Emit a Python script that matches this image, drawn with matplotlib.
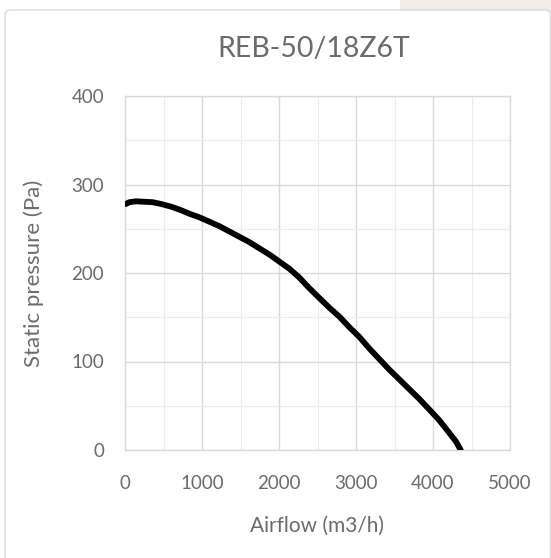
import matplotlib
matplotlib.use('Agg')
import matplotlib.pyplot as plt
from matplotlib.patches import Rectangle, FancyBboxPatch
from matplotlib.ticker import MultipleLocator

# fan curve
airflow = [13, 56, 143, 359, 467, 597, 727, 835, 964, 1094, 1224, 1354, 1483,
           1613, 1743, 1873, 2003, 2132, 2262, 2392, 2521, 2651, 2781, 2911,
           3041, 3170, 3300, 3430, 3560, 3689, 3819, 3949, 4078, 4187, 4295, 4360]
pressure = [278, 280, 281, 280, 278, 275, 271, 267, 263, 258, 253, 247, 241,
            235, 228, 221, 213, 205, 195, 183, 172, 161, 151, 139,
            128, 115, 103, 91, 80, 69, 58, 46, 34, 22, 10, 0]

title = 'REB-50/18Z6T'
xlabel = 'Airflow (m3/h)'
ylabel = 'Static pressure (Pa)'
txt = '#6b6b6b'
grid_c = '#d9d9d9'

plt.rcParams['font.family'] = ['Lato', 'DejaVu Sans']

fig = plt.figure(figsize=(5.51, 5.58), dpi=100)

# chart frame and the shaded strip at top right
fig.patches.append(Rectangle((400 / 551, 1 - 15 / 558), 151 / 551, 15 / 558,
                             transform=fig.transFigure, facecolor='#f1ece8',
                             edgecolor='none', zorder=0))
fig.patches.append(FancyBboxPatch((5 / 551, -0.02), 0.99, 1 - 10 / 558 + 0.02,
                                  boxstyle='round,pad=0,rounding_size=0.01',
                                  transform=fig.transFigure, facecolor='white',
                                  edgecolor=grid_c, linewidth=1.0, zorder=1))

ax = fig.add_axes([125 / 551, 1 - 450 / 558, 385 / 551, 354 / 558])
ax.set_zorder(2)
ax.plot(airflow, pressure, color='black', linewidth=4.2,
        solid_capstyle='round', solid_joinstyle='round', zorder=3)

ax.set_xlim(0, 5000)
ax.set_ylim(0, 400)
ax.xaxis.set_major_locator(MultipleLocator(1000))
ax.xaxis.set_minor_locator(MultipleLocator(500))
ax.yaxis.set_major_locator(MultipleLocator(100))
ax.yaxis.set_minor_locator(MultipleLocator(50))
ax.grid(True, which='major', color=grid_c, linewidth=1.0)
ax.grid(True, which='minor', color='#ececec', linewidth=0.8)
ax.set_axisbelow(True)
for s in ax.spines.values():
    s.set_color(grid_c)
    s.set_linewidth(1.0)

ax.tick_params(which='both', length=0, colors=txt, labelsize=13.5)
ax.tick_params(axis='x', pad=18)
ax.tick_params(axis='y', pad=15)

ax.set_xlabel(xlabel, fontsize=15, color=txt, labelpad=17)
ax.set_ylabel(ylabel, fontsize=16, color=txt, labelpad=20)
fig.text(314 / 551, 1 - 49 / 558, title, fontsize=20.5, color=txt,
         ha='center', va='center')

fig.savefig('out.png', dpi=100)
